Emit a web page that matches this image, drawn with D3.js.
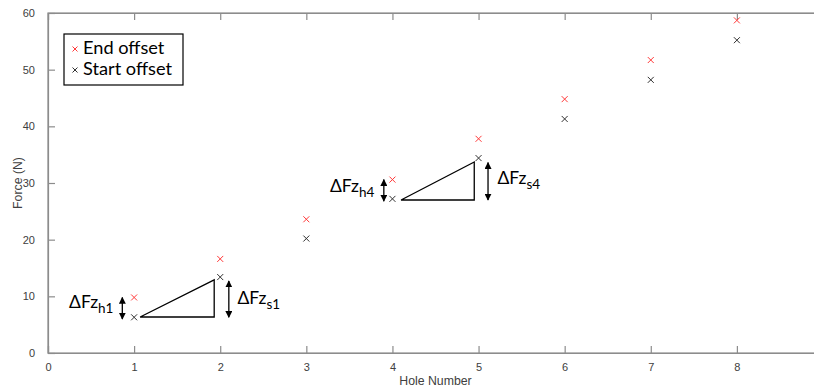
<!DOCTYPE html>
<html><head><meta charset="utf-8">
<script src="https://cdn.jsdelivr.net/npm/d3@7"></script>
<style>body{margin:0;background:#fff;} svg{display:block;}</style>
</head><body>
<svg id="c" width="814" height="390"></svg>
<script>
const holes = [1,2,3,4,5,6,7,8];
const endOffset = [9.8, 16.6, 23.6, 30.6, 37.8, 44.8, 51.7, 58.7];
const startOffset = [6.3, 13.4, 20.2, 27.2, 34.4, 41.3, 48.2, 55.2];
const xTicks = [0,1,2,3,4,5,6,7,8];
const yTicks = [0,10,20,30,40,50,60];
const seriesNames = ["End offset","Start offset"];
const seriesColors = ["#ff3a3a","#303030"];
// annotation triangles: [x0, x1, yLow, yHigh]
const triangles = [[1.07,1.93,6.35,12.9],[4.1,4.95,27.0,33.7]];
// double arrows: [x, yLow, yHigh]
const arrows = [[0.863,6.0,9.8],[2.1,6.3,12.7],[3.9,26.8,30.6],[5.11,27.0,33.6]];
// labels: [x, y, main, sub, anchor]
const labels = [[0.76,7.9,"ΔFz","h1","end"],[2.2,8.6,"ΔFz","s1","start"],[3.79,28.4,"ΔFz","h4","end"],[5.22,29.9,"ΔFz","s4","start"]];

const svg = d3.select("#c");
const L=48, R=823, T=13, B=353;
const x = d3.scaleLinear().domain([0,9]).range([L,R]);
const y = d3.scaleLinear().domain([0,60]).range([B,T]);
const axisCol="#8c8c8c", textCol="#404040";

// box
svg.append("rect").attr("x",L).attr("y",T).attr("width",R-L).attr("height",B-T)
  .attr("fill","none").attr("stroke",axisCol).attr("stroke-width",1.2);

const xa = svg.append("g").attr("transform",`translate(0,${B})`)
  .call(d3.axisBottom(x).tickValues(xTicks).tickSize(-7).tickPadding(10).tickFormat(d3.format("d")));
const xt = svg.append("g").attr("transform",`translate(0,${T})`)
  .call(d3.axisTop(x).tickValues(xTicks).tickSize(-7).tickFormat(""));
const ya = svg.append("g").attr("transform",`translate(${L},0)`)
  .call(d3.axisLeft(y).tickValues(yTicks).tickSize(-7).tickPadding(13).tickFormat(d3.format("d")));
[xa,xt,ya].forEach(g=>{
  g.select(".domain").attr("stroke",axisCol).attr("stroke-width",1.2);
  g.selectAll(".tick line").attr("stroke",axisCol).attr("stroke-width",1.2);
  g.selectAll(".tick text").attr("fill",textCol).attr("font-family","Liberation Sans, Arial, sans-serif").attr("font-size",11);
});

svg.append("text").attr("x",(L+R)/2).attr("y",385).attr("text-anchor","middle")
  .attr("font-family","Liberation Sans, Arial, sans-serif").attr("font-size",12.3).attr("fill",textCol).text("Hole Number");
svg.append("text").attr("transform",`translate(22,${(T+B)/2}) rotate(-90)`).attr("text-anchor","middle")
  .attr("font-family","Liberation Sans, Arial, sans-serif").attr("font-size",12.3).attr("fill",textCol).text("Force (N)");

function cross(g, cx, cy, col, s){
  g.append("path").attr("d",`M${cx-s},${cy-s}L${cx+s},${cy+s}M${cx-s},${cy+s}L${cx+s},${cy-s}`)
   .attr("stroke",col).attr("stroke-width",1).attr("fill","none");
}
const pts = svg.append("g");
holes.forEach((h,i)=>{
  cross(pts, x(h), y(endOffset[i]), seriesColors[0], 3);
  cross(pts, x(h), y(startOffset[i]), seriesColors[1], 3);
});

// triangles
triangles.forEach(t=>{
  svg.append("path").attr("d",`M${x(t[0])},${y(t[2])}L${x(t[1])},${y(t[2])}L${x(t[1])},${y(t[3])}Z`)
    .attr("fill","none").attr("stroke","#000").attr("stroke-width",1.3);
});
// arrows
const defs = svg.append("defs");
defs.append("marker").attr("id","ah").attr("viewBox","0 0 10 10").attr("refX",9).attr("refY",5)
  .attr("markerWidth",7).attr("markerHeight",7).attr("markerUnits","userSpaceOnUse").attr("orient","auto-start-reverse")
  .append("path").attr("d","M0,0L10,5L0,10Z").attr("fill","#000");
arrows.forEach(a=>{
  svg.append("line").attr("x1",x(a[0])).attr("x2",x(a[0])).attr("y1",y(a[1])).attr("y2",y(a[2]))
    .attr("stroke","#000").attr("stroke-width",1.3)
    .attr("marker-start","url(#ah)").attr("marker-end","url(#ah)");
});
labels.forEach(l=>{
  const t = svg.append("text").attr("x",x(l[0])).attr("y",y(l[1])).attr("text-anchor",l[4])
    .attr("font-family","Lato, Open Sans, sans-serif").attr("font-size",17.5).attr("fill","#000");
  t.append("tspan").text(l[2]);
  t.append("tspan").attr("dy",5).attr("font-size",13.5).text(l[3]);
});

// legend
const lg = svg.append("g");
lg.append("rect").attr("x",64).attr("y",34).attr("width",119).attr("height",51)
  .attr("fill","#fff").attr("stroke","#000").attr("stroke-width",1.2);
seriesNames.forEach((n,i)=>{
  const cy = 48 + i*21;
  cross(lg, 75, cy+1, seriesColors[i], 2.5);
  lg.append("text").attr("x",83).attr("y",cy+6).attr("font-family","Lato, Open Sans, sans-serif")
    .attr("font-size",18.2).attr("fill","#000").text(n);
});
</script>
</body></html>
